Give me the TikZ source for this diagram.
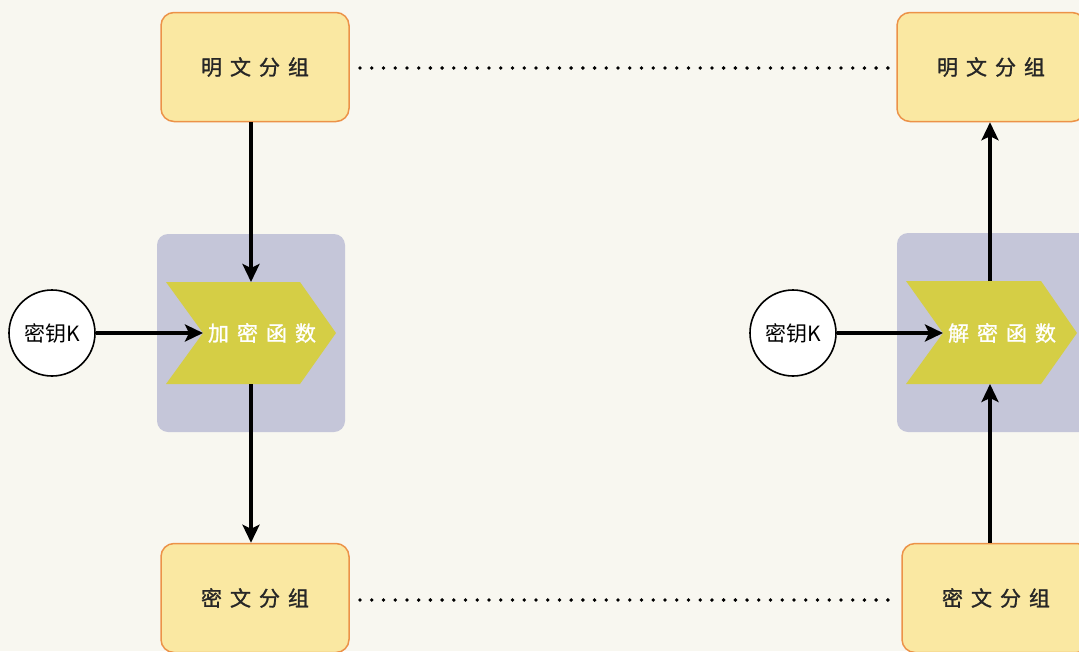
\documentclass[tikz,border=0pt]{standalone}
\usepackage{fontspec}
\newfontfamily\cjk{Noto Sans CJK SC}
\newfontfamily\cjkm[FakeBold=1.2]{Noto Sans CJK SC}
\usetikzlibrary{arrows.meta}
\definecolor{bgc}{RGB}{248,247,240}
\definecolor{boxfill}{RGB}{250,232,162}
\definecolor{boxline}{RGB}{236,146,72}
\definecolor{panel}{RGB}{197,198,217}
\definecolor{chev}{RGB}{213,206,69}
\newcommand{\gapc}{\hspace{0.38em}}
\tikzset{
  blockbox/.style={draw=boxline, line width=1.5pt, fill=boxfill, rounded corners=13pt, minimum width=188pt, minimum height=109pt, font=\cjkm\fontsize{21}{24}\selectfont, text=black!85},
  keycirc/.style={circle, draw=black, line width=1.6pt, fill=white, minimum size=86pt, inner sep=0pt, font=\cjk\fontsize{21}{24}\selectfont},
  panelbox/.style={fill=panel, rounded corners=11pt},
  chevtext/.style={font=\cjkm\fontsize{21}{24}\selectfont, text=white},
  flow/.style={line width=3.6pt, -{Stealth[length=18pt,width=17pt,inset=4pt]}},
  dots/.style={line width=3.8pt, line cap=round, dash pattern=on 0pt off 11.73pt}
}
\begin{document}
\begin{tikzpicture}[x=1pt,y=-1pt]
\useasboundingbox (0,0) rectangle (1079,651);
\clip (0,0) rectangle (1079,651);
\fill[bgc] (0,0) rectangle (1079,651);
% panels
\fill[panelbox] (157,234) rectangle (345,432);
\fill[panelbox] (897,233) rectangle (1095,432);
% chevrons
\fill[chev] (166,282) -- (300,282) -- (336,333) -- (300,384) -- (166,384) -- (203,333) -- cycle;
\fill[chev] (906,281) -- (1041,281) -- (1077,333) -- (1041,384) -- (906,384) -- (943,333) -- cycle;
\node[chevtext] (enc) at (262,333) {加\gapc 密\gapc 函\gapc 数};
\node[chevtext] (dec) at (1002,333) {解\gapc 密\gapc 函\gapc 数};
\coordinate (encin) at (203,333);
\coordinate (encT) at (251,282);
\coordinate (encB) at (251,384);
\coordinate (decin) at (943,333);
\coordinate (decT) at (990,281);
\coordinate (decB) at (990,384);
% boxes
\node[blockbox] (p1) at (255,67) {明\gapc 文\gapc 分\gapc 组};
\node[blockbox] (c1) at (255,598) {密\gapc 文\gapc 分\gapc 组};
\node[blockbox] (p2) at (991,67) {明\gapc 文\gapc 分\gapc 组};
\node[blockbox] (c2) at (996,598) {密\gapc 文\gapc 分\gapc 组};
% keys
\node[keycirc] (k1) at (52,333) {密钥K};
\node[keycirc] (k2) at (793,333) {密钥K};
% arrows
\draw[flow] (k1) -- (encin);
\draw[flow] (k2) -- (decin);
\draw[flow] (p1.south -| encT) -- (encT);
\draw[flow] (encB) -- (c1.north -| encB);
\draw[flow] (decT) -- (p2.south -| decT);
\draw[flow] (c2.north -| decB) -- (decB);
% dotted
\coordinate (d1a) at (360,68);
\coordinate (d1b) at (888,68);
\coordinate (d2a) at (360,600);
\coordinate (d2b) at (888,600);
\draw[dots] (d1a) -- (d1b);
\draw[dots] (d2a) -- (d2b);
\end{tikzpicture}
\end{document}
